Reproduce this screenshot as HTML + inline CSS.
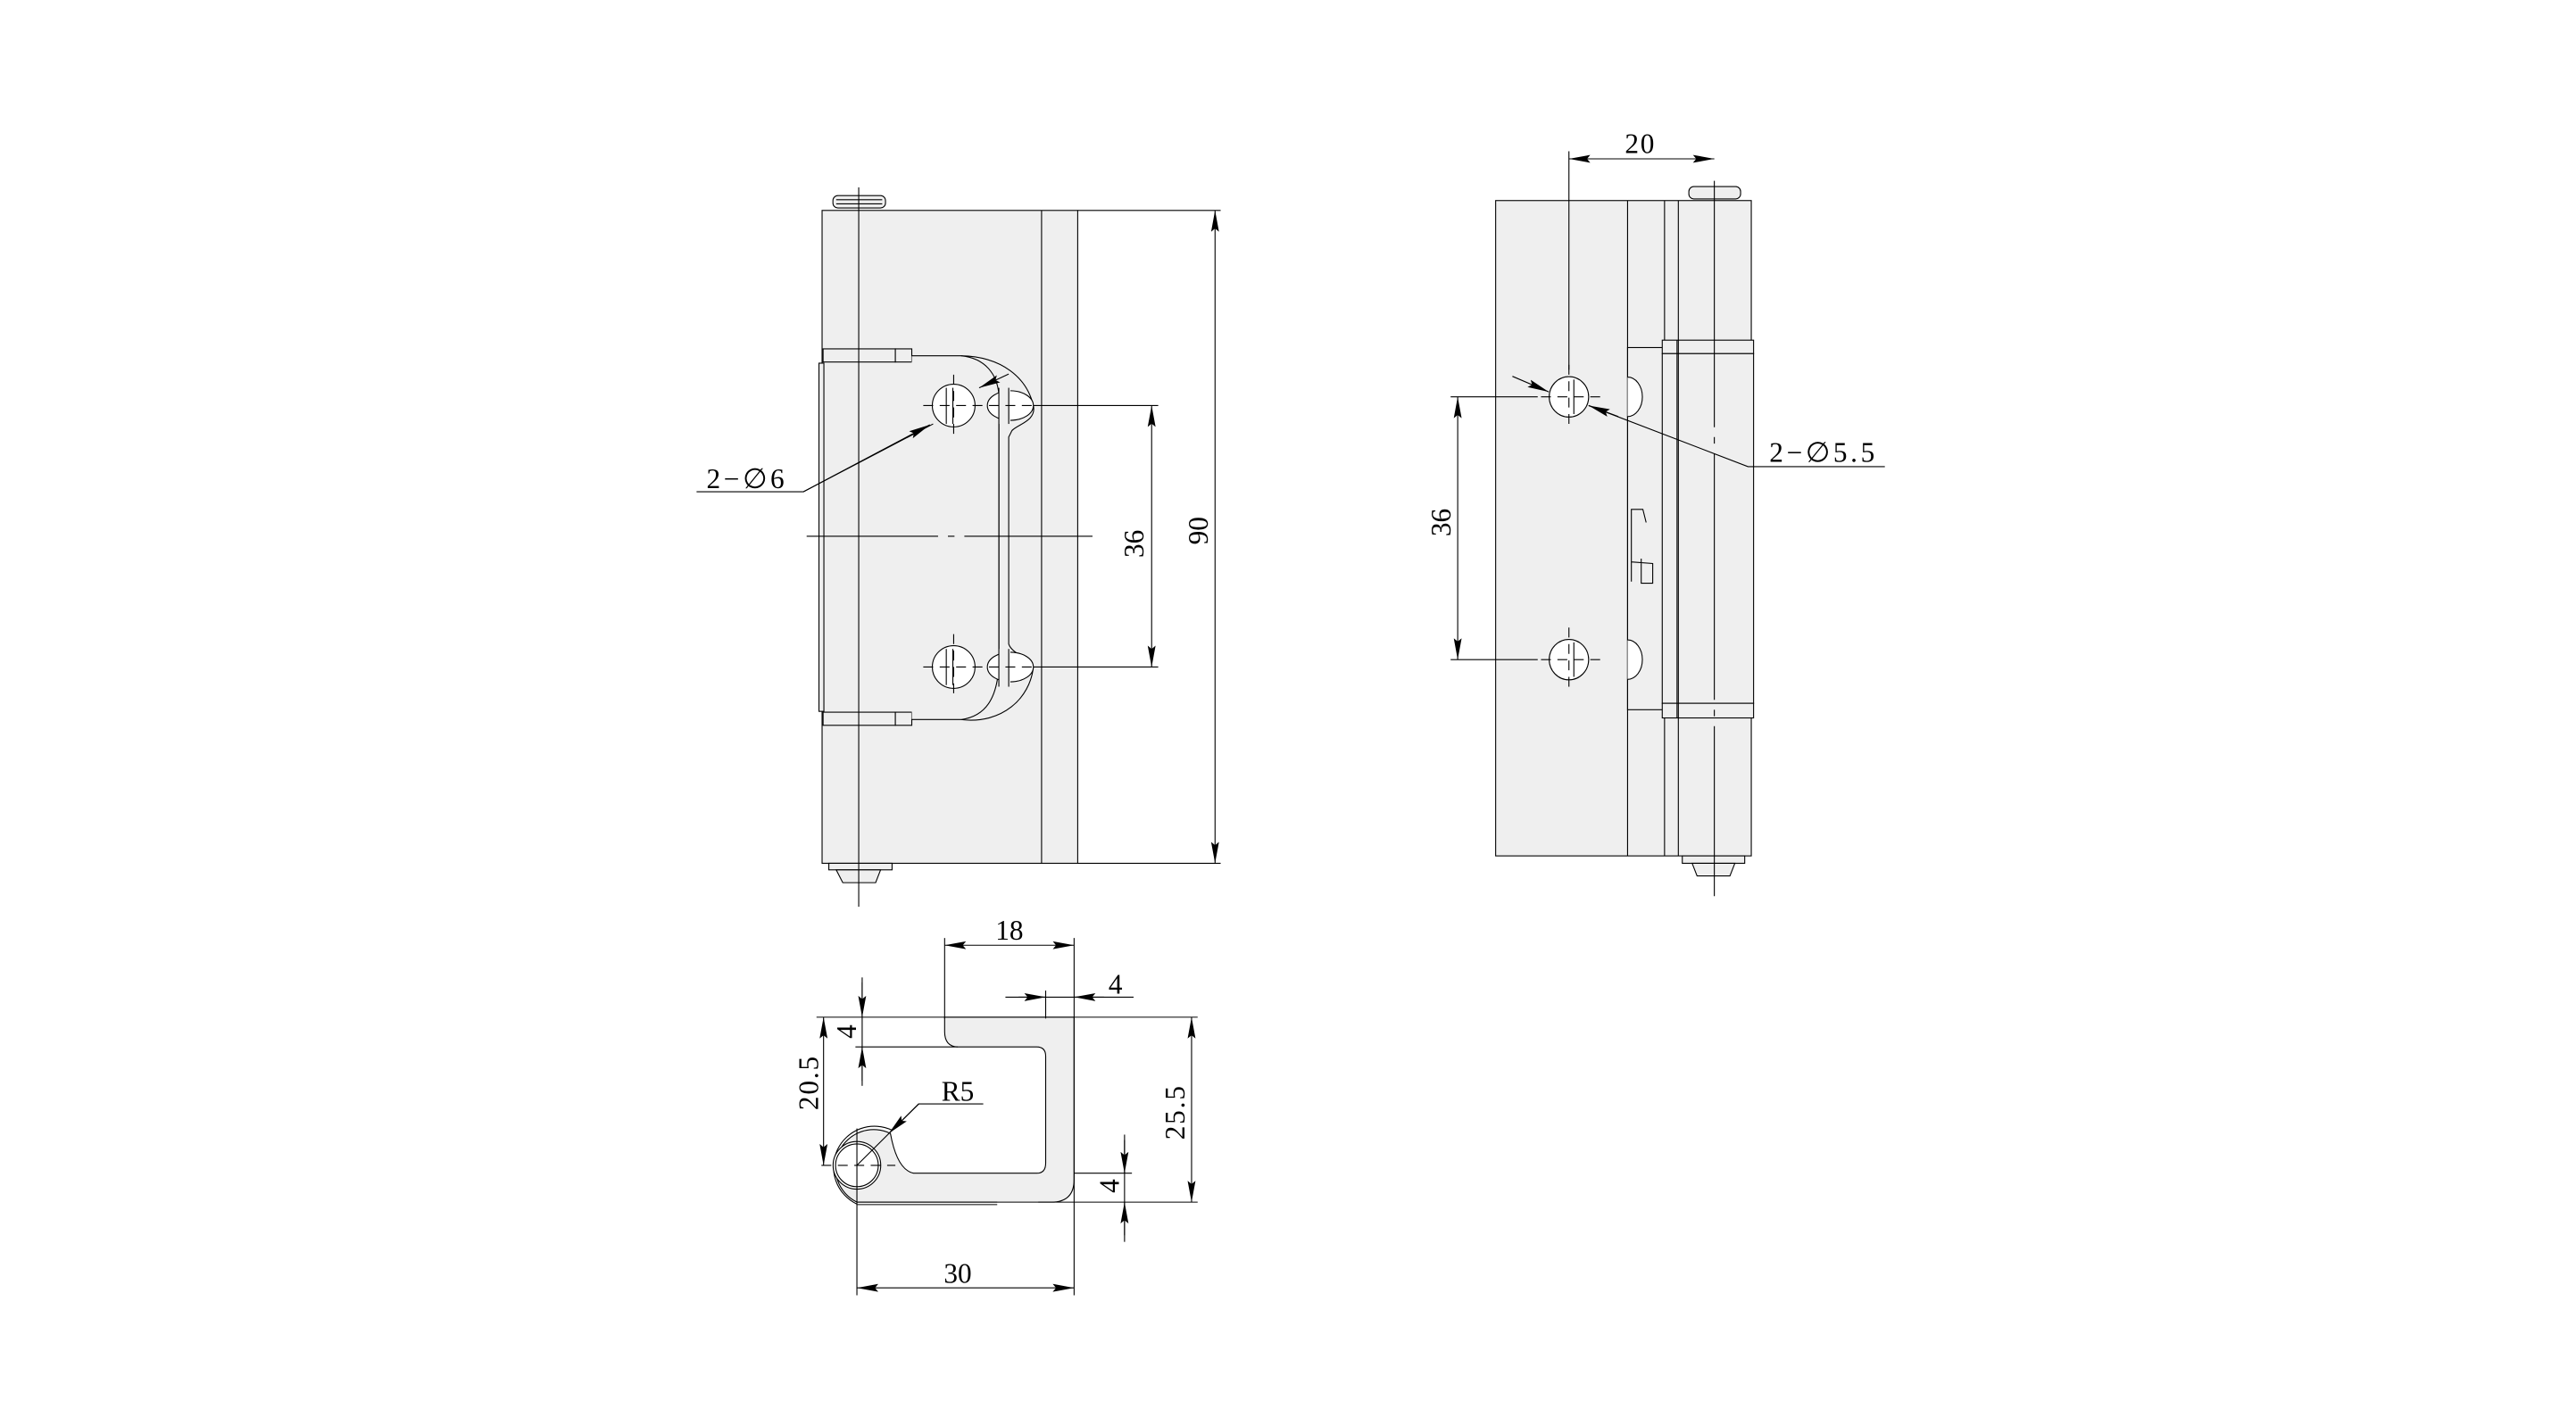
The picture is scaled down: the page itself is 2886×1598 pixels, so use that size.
<!DOCTYPE html>
<html><head><meta charset="utf-8"><style>html,body{margin:0;padding:0;background:#fff}svg{display:block}</style></head>
<body>
<svg xmlns="http://www.w3.org/2000/svg" width="2886" height="1598" viewBox="0 0 1568 868" font-family="'Liberation Serif', serif" font-size="16">
<defs>
<marker id="a" markerUnits="userSpaceOnUse" markerWidth="14" markerHeight="6" refX="13" refY="3" orient="auto-start-reverse" viewBox="0 0 14 6"><path d="M0,0.6 L13,3 L0,5.4 L2,3 Z" fill="#000"/></marker>
</defs>
<g stroke="#000" stroke-width="0.6" fill="none">
<!-- LEFT VIEW -->
<rect x="500.4" y="128" width="155.6" height="397.5" fill="#efefef"/>
<line x1="634" y1="128" x2="634" y2="525.5"/>
<rect x="507" y="119" width="32" height="7.5" rx="3" fill="#efefef"/>
<line x1="509" y1="121.5" x2="537" y2="121.5"/><line x1="509" y1="124" x2="537" y2="124"/>
<rect x="504.5" y="525.5" width="38.5" height="4" fill="#efefef"/>
<path d="M509,529.5 L536,529.5 L533,537.3 L513,537.3 Z" fill="#efefef"/>
<rect x="498.5" y="221" width="3" height="212" fill="#efefef"/>
<rect x="501" y="212.3" width="44" height="8" fill="#efefef"/>
<rect x="545" y="212.3" width="10" height="8" fill="#efefef"/>
<rect x="501" y="433.5" width="44" height="8" fill="#efefef"/>
<rect x="545" y="433.5" width="10" height="8" fill="#efefef"/>
<path d="M555,216.5 L585,216.5 C610,217 625,230 629,246.8 C631,256 620,258 616,262 L614,266 L614,392 C616,398 626,400 629,406 C627,425 610,441 585,438 L555,438" fill="#efefef"/>
<path d="M585,216.5 C600,218 607,228 608,240 L608,405 C607,425 600,436 585,438"/>
<path d="M608,252 L608,404"/>
<ellipse cx="615" cy="246.8" rx="14" ry="9" fill="#fff"/>
<ellipse cx="615" cy="406" rx="14" ry="9" fill="#fff"/>
<rect x="608" y="236" width="7" height="22" fill="#efefef" stroke="none"/>
<rect x="608" y="395" width="7" height="22" fill="#efefef" stroke="none"/>
<line x1="608" y1="236" x2="608" y2="418"/>
<line x1="614" y1="236" x2="614" y2="258"/>
<line x1="614" y1="395" x2="614" y2="418"/>
<ellipse cx="580.5" cy="246.8" rx="13" ry="13" fill="#fff"/>
<ellipse cx="580.5" cy="406" rx="13" ry="13" fill="#fff"/>
<line x1="576" y1="236" x2="576" y2="258"/><line x1="580" y1="236" x2="580" y2="258"/>
<line x1="576" y1="395" x2="576" y2="417"/><line x1="580" y1="395" x2="580" y2="417"/>
<g stroke-dasharray="6,4">
<line x1="562" y1="246.8" x2="630" y2="246.8"/><line x1="562" y1="406" x2="630" y2="406"/>
<line x1="580.5" y1="228" x2="580.5" y2="268"/><line x1="580.5" y1="386" x2="580.5" y2="426"/>
</g>
<line x1="522.7" y1="114" x2="522.7" y2="552"/>
<line x1="491" y1="326.4" x2="665" y2="326.4" stroke-dasharray="80,6,4,6"/>
<line x1="629" y1="246.8" x2="705" y2="246.8"/>
<line x1="629" y1="406" x2="705" y2="406"/>
<line x1="701" y1="246.8" x2="701" y2="406" marker-start="url(#a)" marker-end="url(#a)"/>
<line x1="656" y1="128" x2="743" y2="128"/>
<line x1="656" y1="525.5" x2="743" y2="525.5"/>
<line x1="739.6" y1="128" x2="739.6" y2="525.5" marker-start="url(#a)" marker-end="url(#a)"/>
<polyline points="424,299.3 489,299.3 568,258"/>
<line x1="489" y1="299.3" x2="566" y2="258.5" marker-end="url(#a)"/>
<line x1="614" y1="227.6" x2="596" y2="236" marker-end="url(#a)"/>

<!-- RIGHT VIEW -->
<rect x="910.4" y="122" width="155.6" height="399" fill="#efefef"/>
<line x1="990.7" y1="122" x2="990.7" y2="521"/>
<line x1="1013.2" y1="122" x2="1013.2" y2="521"/>
<line x1="1021.6" y1="122" x2="1021.6" y2="521"/>
<rect x="1028" y="113.5" width="31.5" height="7.5" rx="3" fill="#efefef"/>
<rect x="1024" y="521" width="38" height="4.5" fill="#efefef"/>
<path d="M1030,525.5 L1056,525.5 L1053,533.2 L1033,533.2 Z" fill="#efefef"/>
<rect x="990.7" y="211.5" width="22" height="220.5" fill="#efefef"/>
<rect x="1011.8" y="207" width="55.6" height="8.2" fill="#efefef"/>
<rect x="1011.8" y="215.2" width="55.6" height="212.9" fill="#efefef"/>
<rect x="1011.8" y="428.1" width="55.6" height="8.9" fill="#efefef"/>
<line x1="1020.8" y1="207" x2="1020.8" y2="437"/>
<line x1="1021.6" y1="207" x2="1021.6" y2="437"/>
<path d="M990.7,241.5 m0,-12 a9,12 0 0 1 0,24" fill="#fff"/>
<path d="M990.7,401.5 m0,-12 a9,12 0 0 1 0,24" fill="#fff"/>
<path d="M993,354 L993,310 L1000,310 L1002,318 M993,342 L1006,343 L1006,355 L999,355 L999,340"/>
<ellipse cx="955" cy="241.5" rx="12" ry="12.3" fill="#fff"/>
<ellipse cx="955" cy="401.5" rx="12" ry="12.3" fill="#fff"/>
<line x1="958" y1="231" x2="958" y2="252"/><line x1="958" y1="391" x2="958" y2="412"/>
<g stroke-dasharray="6,4">
<line x1="938" y1="241.5" x2="976" y2="241.5"/><line x1="938" y1="401.5" x2="976" y2="401.5"/>
<line x1="955" y1="222" x2="955" y2="262"/><line x1="955" y1="382" x2="955" y2="422"/>
</g>
<line x1="955" y1="92" x2="955" y2="225"/>
<line x1="1043.5" y1="110" x2="1043.5" y2="545.5" stroke-dasharray="150,6,4,6"/>
<line x1="955" y1="96.6" x2="1043.5" y2="96.6" marker-start="url(#a)" marker-end="url(#a)"/>
<line x1="883" y1="241.5" x2="936" y2="241.5"/>
<line x1="883" y1="401.5" x2="936" y2="401.5"/>
<line x1="887.3" y1="241.5" x2="887.3" y2="401.5" marker-start="url(#a)" marker-end="url(#a)"/>
<polyline points="1147.3,284 1064,284 967,246.8"/>
<line x1="985" y1="253.5" x2="967" y2="246.8" marker-end="url(#a)"/>
<line x1="920.6" y1="229" x2="942.7" y2="238.5" marker-end="url(#a)"/>

<!-- BOTTOM VIEW -->
<path d="M575,619.2 L653.8,619.2 L653.8,718 Q653.8,731.8 640,731.8 L521.6,731.8 A22.4,22.4 0 1 1 542,690 Q546,712 556,714.2 L631,714.2 Q636.5,714.2 636.5,708 L636.5,643 Q636.5,637.3 631,637.3 L583,637.3 Q575,637 575,628 Z" fill="#efefef"/>
<path d="M521.6,733 A23.6,23.6 0 1 1 543,688"/>
<circle cx="521.6" cy="709.4" r="14.5" fill="#fff"/>
<circle cx="521.6" cy="709.4" r="13"/>
<line x1="521.6" y1="731.8" x2="607" y2="731.8"/><line x1="521.6" y1="733.3" x2="607" y2="733.3"/>
<line x1="500" y1="709.4" x2="545" y2="709.4" stroke-dasharray="6,4"/>
<line x1="521.6" y1="687" x2="521.6" y2="788.5"/>
<line x1="653.8" y1="571" x2="653.8" y2="788.5"/>
<line x1="575" y1="571" x2="575" y2="620"/>
<line x1="575" y1="575.4" x2="653.8" y2="575.4" marker-start="url(#a)" marker-end="url(#a)"/>
<line x1="636.5" y1="603" x2="636.5" y2="620"/>
<line x1="612" y1="607" x2="690" y2="607"/>
<line x1="620" y1="607" x2="636.5" y2="607" marker-end="url(#a)"/>
<line x1="672" y1="607" x2="653.8" y2="607" marker-end="url(#a)"/>
<line x1="497" y1="619.2" x2="729" y2="619.2"/>
<line x1="520.7" y1="637.3" x2="583" y2="637.3"/>
<line x1="524.8" y1="595" x2="524.8" y2="661"/>
<line x1="524.8" y1="598" x2="524.8" y2="619.2" marker-end="url(#a)"/>
<line x1="524.8" y1="658" x2="524.8" y2="637.3" marker-end="url(#a)"/>
<line x1="501.3" y1="619.2" x2="501.3" y2="709.4" marker-start="url(#a)" marker-end="url(#a)"/>
<polyline points="598.5,672 559.2,672 521.6,709.4"/>
<line x1="559.2" y1="672" x2="541" y2="690" marker-end="url(#a)"/>
<line x1="653.8" y1="714.2" x2="689" y2="714.2"/>
<line x1="632" y1="731.8" x2="729" y2="731.8"/>
<line x1="725.3" y1="619.2" x2="725.3" y2="731.8" marker-start="url(#a)" marker-end="url(#a)"/>
<line x1="684.5" y1="690.7" x2="684.5" y2="756"/>
<line x1="684.5" y1="694" x2="684.5" y2="714.2" marker-end="url(#a)"/>
<line x1="684.5" y1="752" x2="684.5" y2="731.8" marker-end="url(#a)"/>
<line x1="521.6" y1="784" x2="653.8" y2="784" marker-start="url(#a)" marker-end="url(#a)"/>
</g>
<g fill="#000">
<text x="430" y="297" font-size="17" letter-spacing="2">2−∅6</text>
<text transform="translate(696,331) rotate(-90)" text-anchor="middle" font-size="17">36</text>
<text transform="translate(735,323) rotate(-90)" text-anchor="middle" font-size="17">90</text>
<text x="998.5" y="93" text-anchor="middle" letter-spacing="1" font-size="17">20</text>
<text transform="translate(883,318) rotate(-90)" text-anchor="middle" font-size="17">36</text>
<text x="1077" y="281" letter-spacing="2" font-size="17">2−∅5.5</text>
<text x="614.4" y="572" text-anchor="middle" font-size="17">18</text>
<text x="679" y="605" text-anchor="middle" font-size="17">4</text>
<text transform="translate(521,628) rotate(-90)" text-anchor="middle" font-size="17">4</text>
<text transform="translate(498,659) rotate(-90)" text-anchor="middle" letter-spacing="1" font-size="17">20.5</text>
<text x="583" y="670" text-anchor="middle" font-size="17">R5</text>
<text transform="translate(721,677) rotate(-90)" text-anchor="middle" letter-spacing="1" font-size="17">25.5</text>
<text transform="translate(681,722) rotate(-90)" text-anchor="middle" font-size="17">4</text>
<text x="583" y="781" text-anchor="middle" font-size="17">30</text>
</g>
</svg>
</body></html>
